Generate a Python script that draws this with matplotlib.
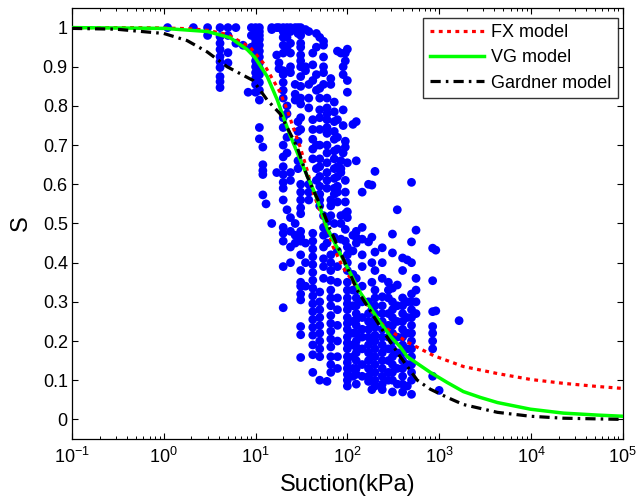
import matplotlib
matplotlib.use('Agg')
import matplotlib.pyplot as plt
import numpy as np
from matplotlib.ticker import NullFormatter, LogLocator

plt.rcParams['font.family'] = ['Liberation Sans', 'DejaVu Sans']

# ---- measured data: suction (kPa) columns and degree of saturation S ----
col_suction = [1.1, 2.1, 3.0, 4.1, 5.0, 6.1, 7.3, 8.3, 9.0, 10, 11, 12, 13, 15, 17, 18,
               20, 22, 24, 27, 29, 31, 35, 38, 42, 46, 50, 55, 60, 66, 72, 78, 85, 90, 95, 100,
               115, 125, 145, 170, 185, 200, 240, 280, 310, 350, 400, 450, 500,
               560, 850, 920, 1000, 1650]
col_S = [
    [1.0],
    [1.0],
    [1.0, 0.98],
    [1.0, 0.977, 0.96, 0.944, 0.926, 0.913, 0.898, 0.875, 0.862, 0.847],
    [1.0, 0.98, 0.936, 0.91],
    [1.0, 0.96],
    [0.955],
    [0.835],
    [1.0, 0.98, 0.95],
    [1.0, 0.995, 0.985, 0.97, 0.96, 0.945, 0.93, 0.915, 0.90, 0.885, 0.87, 0.855, 0.835],
    [1.0, 0.99, 0.98, 0.97, 0.955, 0.94, 0.925, 0.91, 0.895, 0.88, 0.86, 0.84, 0.815, 0.745, 0.716],
    [0.695, 0.65, 0.635, 0.625, 0.573],
    [0.55],
    [1.0, 0.995, 0.50],
    [1.0, 0.93, 0.63],
    [1.0, 0.91, 0.895],
    [1.0, 0.99, 0.975, 0.955, 0.935, 0.89, 0.88, 0.86, 0.84, 0.82, 0.77, 0.745, 0.70, 0.67,
     0.645, 0.625, 0.605, 0.59, 0.56, 0.49, 0.475, 0.455, 0.39, 0.285],
    [1.0, 0.975, 0.95, 0.80, 0.78, 0.72, 0.68, 0.535],
    [1.0, 0.99, 0.96, 0.935, 0.90, 0.885, 0.63, 0.61, 0.515, 0.48, 0.44, 0.40],
    [1.0, 0.855, 0.83, 0.815, 0.50, 0.47, 0.45],
    [1.0, 0.985, 0.76, 0.735, 0.71, 0.66, 0.64],
    [1.0, 0.98, 0.96, 0.95, 0.93, 0.915, 0.90, 0.875, 0.85, 0.82, 0.805, 0.77, 0.74, 0.60,
     0.58, 0.56, 0.54, 0.525, 0.48, 0.465, 0.455, 0.42, 0.38, 0.35, 0.34, 0.32, 0.305,
     0.237, 0.216, 0.158],
    [0.995, 0.90, 0.89, 0.45, 0.40, 0.34],
    [0.99, 0.855, 0.82, 0.795, 0.60, 0.58, 0.56],
    [0.935, 0.905, 0.865, 0.765, 0.74, 0.715, 0.69, 0.665, 0.475, 0.455, 0.435, 0.415, 0.395,
     0.375, 0.355, 0.335, 0.315, 0.295, 0.275, 0.255, 0.235, 0.215, 0.19, 0.165, 0.12],
    [0.985, 0.95, 0.88, 0.84, 0.70, 0.64, 0.61],
    [0.975, 0.845, 0.82, 0.79, 0.77, 0.74, 0.70, 0.665, 0.645, 0.62, 0.595, 0.575, 0.56, 0.545,
     0.325, 0.30, 0.28, 0.26, 0.24, 0.22, 0.20, 0.18, 0.16, 0.10],
    [0.965, 0.955, 0.925, 0.90, 0.885, 0.855, 0.52, 0.49, 0.47, 0.44, 0.41, 0.39, 0.36],
    [0.82, 0.795, 0.78, 0.765, 0.745, 0.73, 0.70, 0.68, 0.655, 0.63, 0.61, 0.59, 0.505, 0.475,
     0.45, 0.097],
    [0.87, 0.855, 0.56, 0.545, 0.52, 0.42, 0.40, 0.38, 0.355, 0.33, 0.31, 0.29, 0.265, 0.245,
     0.225, 0.205, 0.185, 0.16, 0.14, 0.12],
    [0.81, 0.785, 0.76, 0.735, 0.715, 0.685, 0.665, 0.64, 0.615, 0.59, 0.575, 0.50, 0.465],
    [0.94, 0.765, 0.72, 0.69, 0.645, 0.62, 0.595, 0.58, 0.555, 0.43, 0.39, 0.35, 0.31, 0.28,
     0.24, 0.20, 0.16, 0.13],
    [0.935, 0.66, 0.64, 0.63, 0.52, 0.50, 0.46],
    [0.90, 0.88, 0.79, 0.75, 0.68],
    [0.935, 0.915, 0.71, 0.695, 0.61, 0.58, 0.555, 0.525, 0.485, 0.455],
    [0.945, 0.865, 0.835, 0.655, 0.53, 0.515, 0.44, 0.42, 0.40, 0.38, 0.35, 0.33, 0.31, 0.295,
     0.28, 0.26, 0.245, 0.23, 0.21, 0.195, 0.18, 0.16, 0.145, 0.13, 0.115, 0.10, 0.085],
    [0.753, 0.47, 0.43, 0.37, 0.33, 0.29, 0.25, 0.22, 0.19, 0.16, 0.13, 0.11],
    [0.76, 0.66, 0.48, 0.465, 0.45, 0.36, 0.33, 0.31, 0.29, 0.27, 0.255, 0.24, 0.22, 0.20,
     0.185, 0.17, 0.15, 0.13, 0.115, 0.09],
    [0.58, 0.49, 0.46, 0.42, 0.39, 0.34, 0.30, 0.26, 0.23, 0.21, 0.18, 0.14, 0.11],
    [0.60, 0.453, 0.30, 0.27, 0.25, 0.23, 0.21, 0.19, 0.17, 0.15, 0.13, 0.11, 0.097],
    [0.598, 0.465, 0.40, 0.35, 0.28, 0.24, 0.20, 0.16, 0.12, 0.076],
    [0.633, 0.427, 0.38, 0.33, 0.31, 0.29, 0.27, 0.255, 0.235, 0.215, 0.20, 0.18, 0.16, 0.14,
     0.12, 0.10, 0.085],
    [0.438, 0.40, 0.36, 0.313, 0.29, 0.27, 0.25, 0.23, 0.21, 0.19, 0.17, 0.15, 0.13, 0.11,
     0.09, 0.076],
    [0.35, 0.33, 0.31, 0.27, 0.24, 0.21, 0.18, 0.15, 0.12, 0.10],
    [0.473, 0.425, 0.335, 0.30, 0.28, 0.26, 0.24, 0.22, 0.20, 0.18, 0.16, 0.14, 0.12, 0.10, 0.07],
    [0.535, 0.343, 0.29, 0.25, 0.21, 0.17, 0.13, 0.09],
    [0.412, 0.38, 0.31, 0.29, 0.27, 0.25, 0.23, 0.21, 0.19, 0.17, 0.15, 0.13, 0.11, 0.09, 0.07],
    [0.407, 0.30, 0.26, 0.22, 0.18, 0.14, 0.085],
    [0.605, 0.453, 0.40, 0.32, 0.30, 0.28, 0.26, 0.24, 0.22, 0.20, 0.18, 0.16, 0.14, 0.12,
     0.10, 0.064],
    [0.483, 0.36, 0.33, 0.30, 0.27],
    [0.437, 0.354, 0.275, 0.237, 0.22, 0.20, 0.18, 0.11],
    [0.432, 0.277],
    [0.074],
    [0.252],
]

# ---- model curves ----
fx_suction = [0.1, 0.5, 1, 2, 3, 5, 8.7, 12.1, 15.2, 18.5, 22.1, 25.7, 30.6, 36.5, 42.5,
              54.6, 62, 70, 90, 128, 178, 259, 461, 865, 1835, 4313, 9880, 22600, 53000, 100000]
fx_S = [1.0, 1.0, 0.999, 0.997, 0.993, 0.982, 0.95, 0.91, 0.87, 0.835, 0.79, 0.745, 0.695,
        0.636, 0.578, 0.51, 0.48, 0.44, 0.387, 0.336, 0.28, 0.234, 0.196, 0.163, 0.135, 0.117,
        0.102, 0.092, 0.084, 0.079]

vg_suction = [0.1, 1, 3, 5.3, 8.1, 9.9, 13.4, 17.2, 20, 23.8, 30.6, 33, 44.7, 60.4, 90.2, 138,
              229, 300, 377, 450, 802, 1228, 1835, 2813, 4313, 9880, 22600, 53000, 100000]
vg_S = [1.0, 0.998, 0.99, 0.974, 0.944, 0.923, 0.875, 0.816, 0.773, 0.725, 0.663, 0.645,
        0.575, 0.487, 0.408, 0.324, 0.247, 0.21, 0.185, 0.16, 0.12, 0.094, 0.071, 0.056,
        0.043, 0.026, 0.016, 0.011, 0.008]

gd_suction = [0.1, 0.3, 1, 1.79, 2.97, 4.9, 9.4, 13.4, 18.5, 20, 28.4, 36.5, 53.2, 65, 128,
              229, 377, 578, 802, 1228, 1835, 2813, 4313, 9880, 22600, 100000]
gd_S = [0.998, 0.996, 0.985, 0.967, 0.938, 0.90, 0.865, 0.815, 0.78, 0.765, 0.695, 0.62,
        0.536, 0.485, 0.33, 0.236, 0.16, 0.10, 0.077, 0.056, 0.038, 0.028, 0.018, 0.008,
        0.003, 0.0]

x_ticks = [1e-1, 1e0, 1e1, 1e2, 1e3, 1e4, 1e5]
y_ticks = [0, 0.1, 0.2, 0.3, 0.4, 0.5, 0.6, 0.7, 0.8, 0.9, 1.0]
y_tick_labels = ['0', '0.1', '0.2', '0.3', '0.4', '0.5', '0.6', '0.7', '0.8', '0.9', '1']

fig = plt.figure(figsize=(6.38, 5.01), dpi=100)
ax = fig.add_axes([0.1129, 0.1238, 0.8631, 0.8602])

xs = np.concatenate([[s] * len(v) for s, v in zip(col_suction, col_S)])
ys = np.concatenate(col_S)
ax.scatter(xs, ys, s=40, c='#0000ff', edgecolors='none', zorder=2)

ax.plot(fx_suction, fx_S, color='#ff0000', ls=(0, (1.2, 1.4)), lw=2.3, label='FX model', zorder=3)
ax.plot(vg_suction, vg_S, color='#00ff00', ls='-', lw=2.5, label='VG model', zorder=3)
ax.plot(gd_suction, gd_S, color='black', ls=(0, (3.2, 1.6, 0.8, 1.6)), lw=2.3,
        label='Gardner model', zorder=3)

ax.set_xscale('log')
ax.set_xlim(0.1, 1e5)
ax.set_ylim(-0.05, 1.05)
ax.set_xticks(x_ticks)
ax.xaxis.set_minor_locator(LogLocator(base=10, subs=np.arange(2, 10), numticks=20))
ax.xaxis.set_minor_formatter(NullFormatter())
ax.set_yticks(y_ticks)
ax.set_yticklabels(y_tick_labels)
ax.tick_params(which='both', direction='in', top=True, right=True, labelsize=13)
ax.tick_params(which='major', length=4, width=0.8, pad=3)
ax.tick_params(which='minor', length=2.2, width=0.7)
ax.tick_params(axis='x', which='major', pad=6)
for sp in ax.spines.values():
    sp.set_linewidth(0.9)

ax.set_xlabel('Suction(kPa)', fontsize=17, labelpad=5)
ax.set_ylabel('S', fontsize=17, labelpad=8)

leg = ax.legend(loc='upper right', bbox_to_anchor=(1 - 5 / 551, 1 - 10 / 431),
                borderaxespad=0, fontsize=13, frameon=True, fancybox=False,
                handlelength=3.0, handletextpad=0.4, borderpad=0.35, labelspacing=0.45)
leg.get_frame().set_edgecolor('black')
leg.get_frame().set_linewidth(1.0)

fig.savefig('out.png', dpi=100)
